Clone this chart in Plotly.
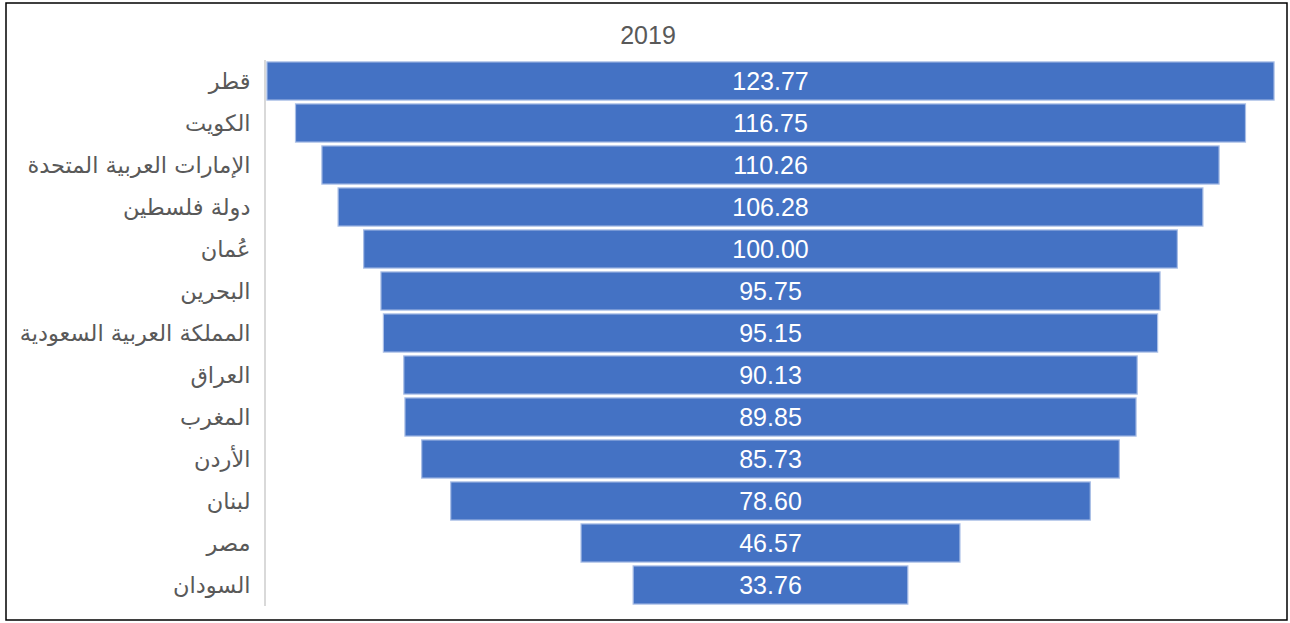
import plotly.graph_objects as go

countries = ["قطر", "الكويت", "الإمارات العربية المتحدة", "دولة فلسطين", "عُمان", "البحرين",
             "المملكة العربية السعودية", "العراق", "المغرب", "الأردن", "لبنان", "مصر", "السودان"]
values = [123.77, 116.75, 110.26, 106.28, 100.00, 95.75, 95.15, 90.13, 89.85, 85.73, 78.60, 46.57, 33.76]
title_text = "2019"

W, H = 1290, 623
L, R, T, B = 266, 15, 60, 17

fig = go.Figure(go.Funnel(
    y=countries,
    x=values,
    texttemplate="%{x:.2f}",
    textposition="inside",
    insidetextanchor="middle",
    textfont=dict(family="Liberation Sans, Arial, sans-serif", size=25, color="white"),
    marker=dict(color="#4472C4", line=dict(color="#A9BEE6", width=1.2)),
    connector=dict(visible=False),
))

pw = W - L - R
ph = H - T - B
def px_x(x):
    return (x - L) / pw
def px_y(y):
    return (H - B - y) / ph

fig.add_shape(type="rect", xref="paper", yref="paper",
              x0=px_x(6), x1=px_x(1287), y0=px_y(620), y1=px_y(3),
              line=dict(color="black", width=1.5), fillcolor="rgba(0,0,0,0)", layer="below")

fig.update_layout(
    width=W, height=H,
    margin=dict(l=L, r=R, t=T, b=B, autoexpand=False),
    paper_bgcolor="white", plot_bgcolor="white",
    showlegend=False,
    funnelgap=0.09,
    title=dict(text=title_text, x=648 / W, xanchor="center", y=1 - 35 / H, yanchor="middle",
               font=dict(family="Liberation Sans, Arial, sans-serif", size=25, color="#595959")),
    font=dict(family="Liberation Sans, DejaVu Sans, Arial, sans-serif", color="#595959"),
)
fig.update_xaxes(visible=False, range=[-62.0, 62.0], showgrid=False, zeroline=False, automargin=False)
fig.update_yaxes(showline=True, linecolor="#D9D9D9", linewidth=2, ticks="", ticklabelstandoff=9,
                 automargin=False,
                 tickfont=dict(family="DejaVu Sans, Liberation Sans, sans-serif", size=22.5, color="#595959"),
                 showgrid=False, zeroline=False)

fig.write_html("out.html", config={"displayModeBar": False},
               post_script="document.body.style.margin='0';")
